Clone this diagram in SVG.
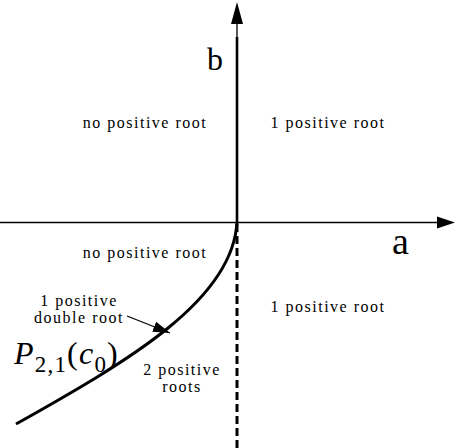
<svg xmlns="http://www.w3.org/2000/svg" width="456" height="448" viewBox="0 0 456 448">
<style>
.lbl{font-family:"Liberation Serif","Times New Roman",serif;font-size:16px;letter-spacing:1.5px;fill:#000;text-anchor:middle}
.ax{font-family:"Liberation Serif","Times New Roman",serif;fill:#000}
</style>
<defs>
<marker id="ah" markerWidth="18" markerHeight="14" refX="17" refY="7" orient="auto" markerUnits="userSpaceOnUse">
<path d="M0,1.5 L17,7 L0,12.5 Z" fill="#000"/>
</marker>
</defs>
<rect width="456" height="448" fill="#fff"/>
<g id="connectors">
<line x1="0" y1="222.5" x2="440" y2="222.5" stroke="#000" stroke-width="1.3"/>
<path d="M437,216.5 L455,222.5 L437,228.5 Z" fill="#000"/>
<line x1="237" y1="22" x2="237" y2="37" stroke="#000" stroke-width="1.3"/>
<line x1="237" y1="37" x2="237" y2="223" stroke="#000" stroke-width="2.6"/>
<path d="M237,2 L243,24 L231,24 Z" fill="#000"/>
<line x1="237" y1="224" x2="237" y2="448" stroke="#000" stroke-width="3" stroke-dasharray="8 4"/>
<path d="M237,222 C233,300 130,360 16,424" fill="none" stroke="#000" stroke-width="3"/>
<line x1="127" y1="316" x2="170" y2="333" stroke="#000" stroke-width="1.3" marker-end="url(#ah)"/>
</g>
<g id="axis-b"><text class="ax" x="207" y="70" font-size="32">b</text></g>
<g id="axis-a"><text class="ax" x="392" y="254" font-size="38">a</text></g>
<g id="q2"><text class="lbl" x="145" y="128">no positive root</text></g>
<g id="q1"><text class="lbl" x="328" y="128">1 positive root</text></g>
<g id="q3"><text class="lbl" x="145" y="258">no positive root</text></g>
<g id="q4"><text class="lbl" x="328" y="312">1 positive root</text></g>
<g id="double"><text class="lbl" x="79" y="306">1 positive</text><text class="lbl" x="79" y="323">double root</text></g>
<g id="two"><text class="lbl" x="182" y="375">2 positive</text><text class="lbl" x="182" y="392">roots</text></g>
<g id="curve-label"><text class="ax" x="14" y="364" font-size="32" letter-spacing="1.2"><tspan font-style="italic">P</tspan><tspan font-size="23" dy="8">2,1</tspan><tspan dy="-8">(</tspan><tspan font-style="italic">c</tspan><tspan font-size="23" dy="8">0</tspan><tspan dy="-8">)</tspan></text></g>
</svg>
